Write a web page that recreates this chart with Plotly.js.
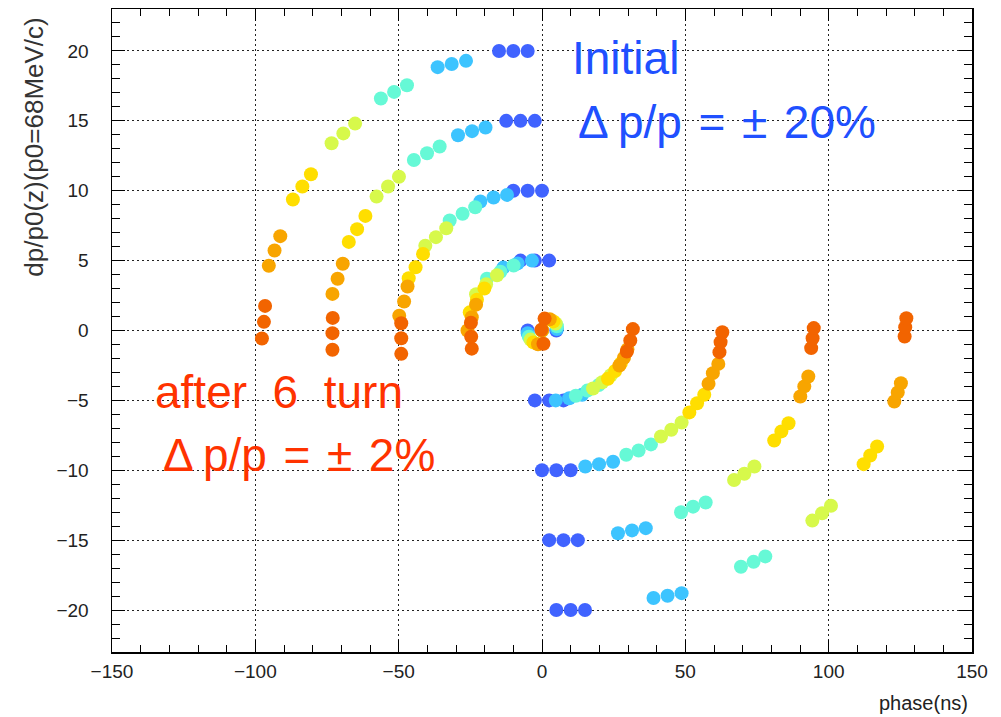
<!DOCTYPE html>
<html><head><meta charset="utf-8">
<script src="https://cdn.plot.ly/plotly-3.0.1.min.js"></script>
<style>html,body{margin:0;padding:0;background:#fff}</style>
</head><body>
<div id="chart" style="width:1001px;height:717px"></div>
<script>
// Groups in order of initial dp: 20, 15, 10, 5, 0, -5, -10, -15, -20 (3 particles each)
const turnNames = ['turn 0','turn 1','turn 2','turn 3','turn 4','turn 5','turn 6'];
const turnColors = ['#4063ff','#3dc4ff','#66f9d6','#d7f94b','#ffde00','#f8a500','#f26400'];

const phase_t0 = [-15,-10,-5, -12.5,-7.5,-2.5, -10,-5,0, -7.5,-2.5,2.5, -5,0,5, -2.5,2.5,7.5, 0,5,10, 2.5,7.5,12.5, 5,10,15];
const dp_t0 = [20,20,20, 15,15,15, 10,10,10, 5,5,5, 0,0,0, -5,-5,-5, -10,-10,-10, -15,-15,-15, -20,-20,-20];

const phase_t1 = [-36.4,-31.5,-26.5, -29.3,-24.4,-19.7, -21.5,-16.9,-12.2, -13.5,-8.5,-3.5, -5.0,0,5.2, 4.8,9.5,14.0, 15.1,19.9,24.8, 26.5,31.4,36.2, 38.9,43.8,48.7];
const dp_t1 = [18.84,19.07,19.29, 13.97,14.26,14.52, 9.23,9.51,9.7, 4.5,4.8,5.0, -0.2,0,0.1, -5.0,-4.85,-4.6, -9.73,-9.56,-9.39, -14.5,-14.3,-14.14, -19.14,-18.98,-18.79];

const phase_t2 = [-56.2,-51.6,-47.1, -44.7,-40.1,-35.7, -32.2,-27.7,-23.3, -19.2,-14.5,-9.9, -4.6,0,5.2, 11.8,15.8,19.8, 29.4,33.7,38.0, 48.5,52.7,57.1, 69.4,73.8,77.9];
const dp_t2 = [16.6,17.07,17.55, 12.2,12.68,13.16, 7.87,8.35,8.82, 3.7,4.2,4.65, -0.45,0,0.3, -4.67,-4.3,-3.9, -8.89,-8.58,-8.15, -13.0,-12.6,-12.3, -16.9,-16.55,-16.16];

const phase_t3 = [-73.4,-69.3,-65.2, -57.7,-53.7,-49.9, -40.7,-37.0,-33.4, -23.0,-19.5,-15.7, -4.0,0,4.8, 17.8,21.0,24.0, 41.5,45.1,48.7, 67.0,70.6,74.1, 94.3,97.7,100.8];
const dp_t3 = [13.4,14.1,14.8, 9.58,10.3,11.0, 6.06,6.68,7.32, 2.6,3.3,3.95, -0.65,0,0.5, -4.15,-3.7,-3.2, -7.58,-7.1,-6.58, -10.7,-10.25,-9.73, -13.6,-13.07,-12.54];

const phase_t4 = [-86.9,-83.6,-80.6, -67.4,-64.5,-61.6, -46.5,-44.1,-41.5, -25.2,-22.7,-20.1, -3.0,0,4.0, 23.0,25.5,27.5, 51.4,54.1,56.6, 81.0,83.5,86.0, 112.2,114.5,116.9];
const dp_t4 = [9.37,10.3,11.18, 6.34,7.25,8.2, 3.74,4.53,5.48, 1.3,2.2,3.0, -0.85,0,0.65, -3.45,-2.9,-2.35, -5.86,-5.2,-4.6, -7.87,-7.22,-6.63, -9.56,-8.94,-8.3];

const phase_t5 = [-95.3,-93.3,-91.3, -73.1,-71.3,-69.5, -49.8,-48.1,-46.9, -26.0,-24.5,-23.0, -1.4,0,2.7, 27.0,28.6,29.8, 58.1,59.6,61.5, 90.1,91.5,92.9, 122.9,124.1,125.2];
const dp_t5 = [4.63,5.72,6.75, 2.62,3.7,4.77, 1.05,2.07,3.15, 0.0,0.95,1.85, -0.98,0,0.8, -2.5,-1.95,-1.35, -3.81,-3.05,-2.39, -4.72,-4.0,-3.29, -5.08,-4.43,-3.77];

const phase_t6 = [-97.7,-97.0,-96.6, -73.1,-73.1,-73.0, -49.1,-49.1,-49.1, -24.5,-24.7,-24.8, 0.5,-0.2,0.9, 29.6,30.8,31.7, 61.9,62.3,62.9, 93.9,94.4,94.8, 126.5,126.7,127.1];
const dp_t6 = [-0.57,0.62,1.76, -1.38,-0.19,0.9, -1.67,-0.55,0.52, -1.3,-0.45,0.55, -0.95,0.05,0.85, -1.5,-0.72,0.1, -1.55,-0.83,-0.12, -1.26,-0.55,0.17, -0.43,0.24,0.88];

const xTickVals = [-150,-100,-50,0,50,100,150];
const yTickVals = [-20,-15,-10,-5,0,5,10,15,20];

const phases = [phase_t0,phase_t1,phase_t2,phase_t3,phase_t4,phase_t5,phase_t6];
const dps = [dp_t0,dp_t1,dp_t2,dp_t3,dp_t4,dp_t5,dp_t6];

const traces = phases.map((ph, i) => ({
  type: 'scatter', mode: 'markers', name: turnNames[i],
  x: ph, y: dps[i],
  marker: {color: turnColors[i], size: 14, line: {width: 0}},
  hoverinfo: 'x+y'
}));

const FF = 'Liberation Sans, Arial, sans-serif';
const tickFont = {family: FF, size: 19, color: '#222'};
const axBase = {
  showline: true, linecolor: '#000', linewidth: 1.5, mirror: 'ticks',
  ticks: 'inside', tickcolor: '#000', tickwidth: 1,
  showgrid: true, gridcolor: '#222', gridwidth: 1, griddash: '2px,3px',
  zeroline: false, tickfont: tickFont
};

const SP = ' \u200a';
const layout = {
  width: 1001, height: 717,
  margin: {l: 112, r: 29, t: 9, b: 65},
  paper_bgcolor: '#fff', plot_bgcolor: '#fff',
  showlegend: false,
  xaxis: Object.assign({}, axBase, {
    range: [-150, 150], tickvals: xTickVals, ticklen: 12,
    minor: {dtick: 10, ticks: 'inside', ticklen: 7, tickcolor: '#000', showgrid: false},
    ticklabelstandoff: 2
  }),
  yaxis: Object.assign({}, axBase, {
    range: [-23, 23], tickvals: yTickVals, ticklen: 13,
    minor: {dtick: 1, ticks: 'inside', ticklen: 8, tickcolor: '#000', showgrid: false},
    ticklabelstandoff: 18
  }),
  annotations: [
    {xref: 'x', yref: 'y', x: 9.6, y: 19.5, xanchor: 'left', yanchor: 'middle', showarrow: false,
     text: 'Initial', font: {family: FF, size: 46, color: '#2050ff'}},
    {xref: 'x', yref: 'y', x: 11.8, y: 14.9, xanchor: 'left', yanchor: 'middle', showarrow: false,
     text: 'Δ\u2009p/p' + SP + '=' + SP + '±' + SP + '20%', font: {family: FF, size: 46, color: '#2050ff'}},
    {xref: 'x', yref: 'y', x: -135.8, y: -4.4, xanchor: 'left', yanchor: 'middle', showarrow: false,
     text: 'after\u00a0 6\u00a0 turn', font: {family: FF, size: 46, color: '#ff3300'}},
    {xref: 'x', yref: 'y', x: -133, y: -8.9, xanchor: 'left', yanchor: 'middle', showarrow: false,
     text: 'Δ\u2009p/p' + SP + '=' + SP + '±' + SP + '2%', font: {family: FF, size: 46, color: '#ff3300'}},
    {xref: 'paper', yref: 'paper', x: -0.091, y: 0.99, xanchor: 'center', yanchor: 'top', textangle: -90, showarrow: false,
     text: 'dp/p0(z)(p0=68MeV/c)', font: {family: FF, size: 26, color: '#333'}},
    {xref: 'paper', yref: 'paper', x: 0.9977, y: -0.079, xanchor: 'right', yanchor: 'middle', showarrow: false,
     text: 'phase(ns)', font: {family: FF, size: 20, color: '#222'}}
  ]
};

Plotly.newPlot('chart', traces, layout, {displayModeBar: false, staticPlot: true});
</script>
</body></html>
